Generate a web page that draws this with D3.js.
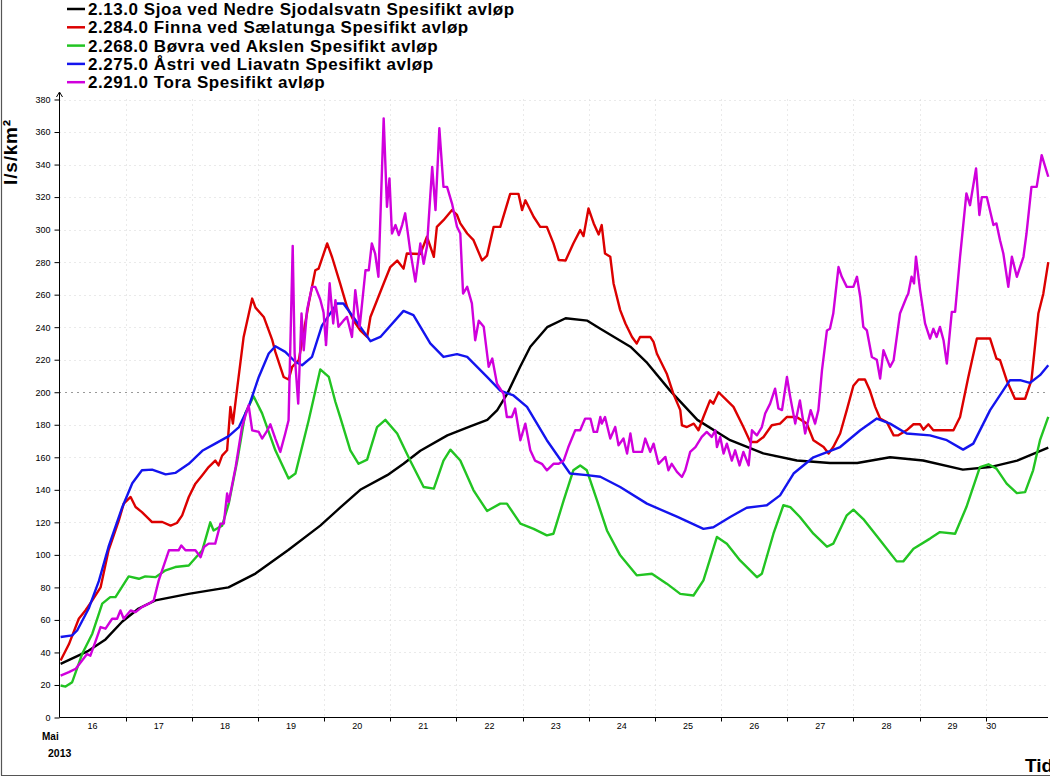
<!DOCTYPE html>
<html><head><meta charset="utf-8">
<script src="https://cdn.jsdelivr.net/npm/d3@7"></script>
<style>
body{margin:0;background:#fff}
svg{display:block;font-family:"Liberation Sans",Arial,Helvetica,sans-serif}
</style>
</head><body>
<svg id="chart" width="1050" height="777"></svg>
<script>
// ---------- DATA (time = hours after 16 May 2013 00:00, value = l/s/km²) ----------
const seriesNames = [
  "2.13.0 Sjoa ved Nedre Sjodalsvatn Spesifikt avløp",
  "2.284.0 Finna ved Sælatunga Spesifikt avløp",
  "2.268.0 Bøvra ved Akslen Spesifikt avløp",
  "2.275.0 Åstri ved Liavatn Spesifikt avløp",
  "2.291.0 Tora Spesifikt avløp"
];
const seriesColors = ["#000000", "#dc0000", "#22c422", "#1414ee", "#d000dc"];

const sjoa = [[0.4,33],[10.5,41],[16.7,48],[22.8,59],[28.7,67],[34.8,72],[46.8,76],[54.0,78],[61.3,80],[71.1,88.5],[83.0,103],[94.6,118],[101.8,129],[109.1,140],[118.9,149],[124.8,156],[130.9,164],[140.7,173.5],[149.0,179],[155.2,183],[158.8,189],[162.4,199],[167.2,216],[170.8,228],[176.9,240],[183.6,245.5],[191.5,244],[196.2,239],[207.1,228],[213.2,218],[221.5,201],[231.4,183],[243.3,170.5],[255.3,162.4],[267.5,158],[279.5,156.5],[289.4,156.5],[301.3,160],[313.3,158],[327.7,152.4],[337.6,154],[347.4,158],[358.7,166]];

const finna = [[0.4,35],[3.4,45],[7.0,60.7],[9.4,65.8],[11.9,72],[14.9,80],[17.8,102.8],[21.5,121],[23.3,131.5],[25.8,135.6],[27.6,129.4],[29.9,126.3],[33.6,120.2],[37.3,120.2],[40.3,118],[42.6,119.6],[44.5,124.3],[46.9,135.6],[49.3,143.8],[51.8,149],[54.1,154],[56.5,158],[57.7,155],[59.0,161],[60.8,164.3],[62.0,191],[62.9,180.7],[64.5,203],[66.8,234],[69.9,257.6],[71.1,252],[74.1,246.3],[77.2,232],[78.3,224.8],[81.3,209.4],[83.1,207.8],[84.4,215.6],[86.8,219.7],[90.4,254.6],[92.8,275],[94.0,276],[97.1,291.5],[98.9,283],[101.8,266.9],[104.3,252.5],[106.7,244],[109.1,238],[111.6,234],[112.8,246.3],[115.2,256.6],[117.6,266.9],[120.0,277],[122.5,281],[124.8,276],[126.0,285.3],[130.9,285],[133.3,295.6],[135.8,283.3],[136.9,301.7],[139.3,305.8],[142.4,312],[144.2,309],[145.4,303.8],[147.9,297.6],[150.2,293.5],[153.3,281],[155.1,284],[157.5,301.7],[159.9,301.7],[163.5,322],[166.5,322],[167.8,312],[169.0,318],[172.0,307.9],[174.4,301.7],[176.8,301.7],[179.2,291.5],[181.1,281.3],[183.6,281],[186.4,291.5],[188.9,299.7],[190.1,296],[191.9,313],[193.8,303.8],[195.6,297],[196.7,302.8],[197.9,285.3],[199.8,283.3],[201.0,266.9],[203.4,250.5],[205.3,242.3],[207.7,234],[209.4,230],[210.6,234],[214.3,234],[215.5,231],[216.7,223.8],[220.3,211.4],[222.7,199],[225.2,189],[225.8,179.7],[227.6,178.6],[230.1,180.7],[231.8,176.6],[233.6,184.8],[236.0,195],[237.2,193],[239.1,200],[242.1,195],[244.5,191],[248.1,178.6],[250.6,169.4],[253.0,169.4],[255.4,172.5],[258.4,179.7],[261.4,180.7],[263.9,184.8],[267.4,184.8],[271.1,180.7],[273.5,170.5],[277.2,166.3],[279.0,162.3],[280.7,166.3],[283.2,174.6],[285.6,189],[288.0,204],[289.9,207.8],[292.2,207.8],[294.0,201],[295.9,191],[297.7,183.8],[300.1,181.7],[302.6,173.5],[304.3,173.5],[307.3,176.6],[309.8,180.3],[312.2,180.3],[313.4,177],[315.2,180.3],[317.0,176.6],[324.3,176.6],[326.7,184.8],[329.7,209.4],[332.8,233],[337.6,233],[339.9,220.7],[341.2,219.7],[343.6,207.4],[346.6,196],[350.3,196],[352.6,207.4],[355.1,248.4],[356.9,260.6],[358.7,280]];

const bovra = [[0.4,19.7],[2.2,19],[4.6,21.7],[8.2,39],[11.9,51.5],[15.5,70],[18.4,74],[20.3,74],[25.1,86.8],[28.8,85.3],[31.1,86.8],[34.8,86.3],[38.5,90.5],[42.0,92.5],[46.9,93.5],[51.8,102.8],[54.7,120],[55.9,115],[59.0,118],[61.4,131.5],[64.5,158],[67.4,187],[70.4,197.5],[73.5,187],[78.3,164.3],[83.1,147],[85.6,150],[90.4,182.8],[94.6,214],[97.7,209.4],[100.1,194],[101.8,184.8],[105.5,164.3],[108.5,156],[111.6,158.6],[115.2,178.6],[118.2,183],[122.5,174.6],[127.2,158],[132.1,141.7],[135.8,140.7],[139.3,158],[141.8,164.7],[145.4,158],[150.2,139.7],[155.1,127],[159.9,131.5],[162.3,131.5],[167.2,119.2],[172.0,116],[176.8,112],[179.2,113],[182.9,133.5],[186.4,152],[188.9,155],[191.3,152],[195.0,133.5],[198.6,115],[203.4,99.7],[209.4,87.4],[214.9,88.4],[220.3,82.3],[225.2,76],[230.0,75],[233.6,84.3],[238.5,111],[242.1,106.9],[246.9,96.6],[253.0,86.3],[254.8,88.4],[259.0,113],[262.6,130.5],[265.1,129.4],[268.6,123.3],[273.5,113],[278.4,105],[280.7,106.9],[285.6,124.3],[288.0,127.8],[291.6,122],[297.7,109],[303.7,96],[306.1,96],[309.8,103.8],[315.8,110],[319.4,114],[324.9,113],[329.0,129.4],[333.9,154],[337.0,155.7],[339.9,153],[343.6,143.8],[347.3,138],[350.3,138.6],[353.2,152],[355.7,170.5],[358.7,184.8]];

const astri = [[0.4,49.5],[4.6,50.5],[6.4,53.5],[10.6,67],[14.3,84],[17.8,105],[22.7,129],[26.4,144],[29.9,152],[33.6,152.4],[38.5,149.5],[42.0,150.4],[46.9,156],[51.8,164],[56.5,168.4],[61.4,173],[65.1,178.6],[68.6,191],[72.3,209.4],[75.9,223.8],[78.3,228.3],[81.9,224.8],[85.6,218.6],[88.0,216.6],[91.6,221.7],[95.2,241],[100.7,254.6],[103.0,254.6],[106.7,246],[112.8,231.4],[116.4,234],[124.8,250],[128.4,247.4],[134.5,230],[139.3,221.7],[144.2,223.4],[147.9,221.7],[155.1,209.4],[159.9,201],[164.7,198],[169.6,191],[176.8,170.5],[185.2,150],[191.3,149],[196.2,148],[203.4,141.7],[213.1,131.5],[224.2,123.3],[233.6,116],[237.2,117],[243.3,123.3],[249.3,129],[256.6,130.5],[261.4,136.6],[266.3,150],[273.5,160],[283.2,166.3],[290.5,176.6],[296.5,183.8],[301.3,180.7],[307.3,174.6],[315.8,173.5],[321.9,170.5],[327.8,164.7],[331.5,168.4],[337.6,189],[344.8,207.4],[348.5,207.4],[352.0,205.7],[355.7,210.5],[358.7,216.6]];

const tora = [[0.4,25.8],[3.4,27.9],[5.9,30],[8.2,35],[10.0,39],[11.2,38],[13.1,47],[14.9,55.6],[16.7,54.6],[19.1,60.7],[20.9,60.7],[22.1,65.8],[23.3,60.7],[25.8,65.8],[27.6,64.8],[29.9,67.9],[32.4,70],[34.2,72],[36.0,84.3],[39.7,102.8],[43.2,102.8],[44.2,105.8],[45.7,102.8],[49.3,102.8],[51.2,98.6],[52.4,104.8],[54.1,106.9],[56.5,106.9],[58.4,119.2],[59.6,119.2],[60.8,137.7],[61.4,132.5],[63.9,154],[66.2,178.6],[68.6,192],[69.9,176.6],[72.3,175.6],[73.5,171.5],[75.3,176.2],[76.5,180.3],[78.3,171.5],[80.1,163.3],[81.9,174.6],[83.1,182.8],[84.6,290],[85.3,223.8],[86.6,193],[87.8,248.4],[88.6,225.8],[89.8,250.5],[91.6,264.8],[92.8,264.8],[94.6,257],[95.8,249],[96.7,229],[98.0,267],[99.3,242.3],[100.1,256.6],[101.2,240.2],[103.0,244],[104.3,246.3],[106.1,234],[107.3,262.8],[108.9,240.2],[111.0,275],[112.2,275],[113.3,291.5],[114.5,285.3],[115.7,271],[116.7,322],[117.6,368.4],[118.8,314],[119.7,331.5],[120.6,297.6],[121.9,302.8],[123.1,296.6],[124.3,302.8],[125.4,310],[127.2,287.4],[129.1,268],[130.9,291.5],[132.1,279],[133.3,289.4],[135.2,338.6],[136.4,312],[137.8,362.3],[139.3,326.3],[140.6,326.3],[142.4,316],[144.2,301.7],[145.4,297.6],[146.4,260.7],[147.9,264.8],[149.6,254.6],[150.8,232],[152.1,244],[153.9,240.2],[155.7,215.6],[157.0,220.7],[158.7,205.3],[161.1,199],[162.3,184.8],[164.1,184.8],[165.3,190],[167.2,170.5],[169.0,180.7],[170.8,164.3],[172.5,158],[175.0,156],[176.8,152],[179.2,156],[181.1,156],[182.9,158],[184.6,166.3],[187.1,176.6],[188.9,176.6],[190.7,183.8],[192.6,183.8],[193.8,175.6],[195.0,175.6],[196.2,184.8],[196.7,180.7],[197.9,184.8],[199.8,171.5],[201.6,178.6],[202.8,167.4],[204.6,171.5],[205.9,162.3],[207.1,174.6],[208.2,163.3],[211.3,163.3],[212.5,171.5],[214.3,163.3],[215.5,168.4],[217.3,156],[219.8,160.2],[220.9,152],[222.1,156],[224.0,151],[225.8,147.9],[227.0,152],[228.8,163.3],[230.7,166.3],[233.0,172.5],[234.8,175.6],[236.6,172.5],[237.9,176.6],[238.5,166.3],[239.7,172.5],[240.9,162.3],[242.1,168.4],[243.9,158],[245.1,164.3],[246.7,155],[248.1,163.3],[250.0,155],[251.2,176.6],[253.0,173.5],[254.8,178.6],[256.0,186.9],[257.8,193],[259.6,202.2],[260.8,190],[262.1,189],[263.9,209.4],[265.1,197],[266.9,180.7],[268.6,195],[270.5,174.6],[272.5,189],[274.1,180.7],[275.3,189],[276.6,213.5],[278.4,238],[279.5,239],[280.7,248.4],[282.6,277],[283.8,271],[285.6,264.8],[288.0,264.8],[289.3,271],[290.5,258.6],[291.6,240.2],[292.9,238],[294.7,221.7],[296.5,220],[297.7,208.4],[298.9,225.8],[301.3,215.6],[302.6,219.7],[304.9,248.4],[307.3,258.6],[307.9,260.6],[309.1,271],[310.0,266.9],[310.7,283.3],[312.2,262.8],[314.0,242.3],[315.8,233],[317.0,239],[318.2,234],[319.4,240.2],[320.7,232],[321.9,217.6],[323.7,249.4],[324.9,249.4],[326.7,283.3],[329.0,322.3],[330.3,315],[332.5,337.6],[333.7,309],[334.6,320],[336.4,320],[338.8,302.8],[339.9,303.8],[341.2,293.5],[342.4,285.3],[344.2,264.8],[345.5,283.3],[347.3,271],[349.7,283.3],[350.8,297.6],[352.6,326.3],[354.5,326.3],[356.3,345.8],[358.7,332.5]];

const seriesData = [sjoa, finna, bovra, astri, tora];
const yTickValues = d3.range(0, 381, 20);
const refLineValue = 200;
const monthLabel = "Mai";
const yearLabel = "2013";
const yTitle = "l/s/km²";
const xTitle = "Tid";

// ---------- LAYOUT ----------
const start = new Date(2013, 4, 16, 0, 0, 0);
const toDate = h => new Date(start.getTime() + h * 3600000);
const endHours = 358.6;
const endDate = toDate(endHours);
const plot = {left: 59.5, right: 1048, top: 99.5, bottom: 717.5};

const x = d3.scaleTime().domain([start, endDate]).range([plot.left, plot.right]);
const y = d3.scaleLinear().domain([0, 380]).range([plot.bottom, plot.top]);

const svg = d3.select("#chart");

// frame
svg.append("line").attr("x1", 1.5).attr("x2", 1.5).attr("y1", 0).attr("y2", 775.5).attr("stroke", "#555").attr("stroke-width", 1.2);
svg.append("line").attr("x1", 1).attr("x2", 1050).attr("y1", 775.5).attr("y2", 775.5).attr("stroke", "#555").attr("stroke-width", 1.2);

// grid
const days = d3.timeDay.range(d3.timeDay.offset(start, 1), endDate);
svg.append("g").selectAll("line").data(days).join("line")
  .attr("x1", d => Math.round(x(d)) + 0.5).attr("x2", d => Math.round(x(d)) + 0.5)
  .attr("y1", plot.top).attr("y2", plot.bottom)
  .attr("stroke", "#d4d4d4").attr("stroke-width", 1).attr("stroke-dasharray", "1,4");
svg.append("g").selectAll("line").data(yTickValues.filter(v => v > 0 && v !== refLineValue)).join("line")
  .attr("x1", plot.left).attr("x2", plot.right)
  .attr("y1", d => Math.round(y(d)) + 0.5).attr("y2", d => Math.round(y(d)) + 0.5)
  .attr("stroke", "#d4d4d4").attr("stroke-width", 1).attr("stroke-dasharray", "1,4");
svg.append("line").attr("x1", plot.left).attr("x2", plot.right)
  .attr("y1", Math.round(y(refLineValue)) + 0.5).attr("y2", Math.round(y(refLineValue)) + 0.5)
  .attr("stroke", "#333").attr("stroke-width", 1).attr("stroke-dasharray", "1,5");

// clip
svg.append("defs").append("clipPath").attr("id", "clip").append("rect")
  .attr("x", plot.left).attr("y", 0).attr("width", plot.right - plot.left + 2).attr("height", plot.bottom);

// series
const line = d3.line().x(d => x(toDate(d[0]))).y(d => y(d[1]));
svg.append("g").attr("clip-path", "url(#clip)").selectAll("path").data(seriesData).join("path")
  .attr("d", line).attr("fill", "none")
  .attr("stroke", (d, i) => seriesColors[i]).attr("stroke-width", 2.4)
  .attr("stroke-linejoin", "round");

// y axis
const yAxis = d3.axisLeft(y).tickValues(yTickValues).tickSize(5).tickPadding(4);
const gy = svg.append("g").attr("transform", `translate(${plot.left},0)`).call(yAxis);
gy.select(".domain").remove();
gy.selectAll(".tick line").attr("stroke", "#000");
gy.selectAll(".tick text").attr("font-size", 9).attr("font-family", "Liberation Sans, Arial, sans-serif").attr("fill", "#000");
svg.append("line").attr("x1", plot.left).attr("x2", plot.left).attr("y1", plot.bottom).attr("y2", 93).attr("stroke", "#000");
svg.append("path").attr("d", `M${plot.left - 3},${97} L${plot.left},${92} L${plot.left + 3},${97}`).attr("fill", "none").attr("stroke", "#000");

// x axis
svg.append("line").attr("x1", plot.left).attr("x2", plot.right).attr("y1", plot.bottom).attr("y2", plot.bottom).attr("stroke", "#000");
svg.append("g").selectAll("line").data(days).join("line")
  .attr("x1", d => Math.round(x(d)) + 0.5).attr("x2", d => Math.round(x(d)) + 0.5)
  .attr("y1", plot.bottom).attr("y2", plot.bottom + 4).attr("stroke", "#000");
const labelDays = d3.timeDay.range(start, endDate);
const lastDay = labelDays[labelDays.length - 1];
svg.append("g").selectAll("text").data(labelDays).join("text")
  .attr("x", d => +d === +lastDay ? x(d) + 0.5 : x(d3.timeHour.offset(d, 12)))
  .attr("y", 729)
  .attr("text-anchor", d => +d === +lastDay ? "start" : "middle")
  .attr("font-size", 9).text(d => d.getDate());
svg.append("text").attr("x", 42).attr("y", 740).attr("font-size", 10).attr("font-weight", "bold").text(monthLabel);
svg.append("text").attr("x", 48).attr("y", 757).attr("font-size", 10.5).attr("font-weight", "bold").text(yearLabel);
svg.append("text").attr("x", 1025).attr("y", 772).attr("font-size", 19).attr("font-weight", "bold").text(xTitle);

// y title
svg.append("text").attr("transform", "translate(17,152) rotate(-90)").attr("text-anchor", "middle")
  .attr("font-size", 19).attr("letter-spacing", 0.8).attr("font-weight", "bold").text(yTitle);

// legend
const lg = svg.append("g").selectAll("g").data(seriesNames).join("g")
  .attr("transform", (d, i) => `translate(0,${15 + i * 18.3})`);
lg.append("line").attr("x1", 67).attr("x2", 85).attr("y1", -6).attr("y2", -6)
  .attr("stroke", (d, i) => seriesColors[i]).attr("stroke-width", 2.5);
lg.append("text").attr("x", 88).attr("y", 0).attr("font-size", 17).attr("letter-spacing", 0.55)
  .attr("font-weight", "bold").text(d => d);
</script>
</body></html>
